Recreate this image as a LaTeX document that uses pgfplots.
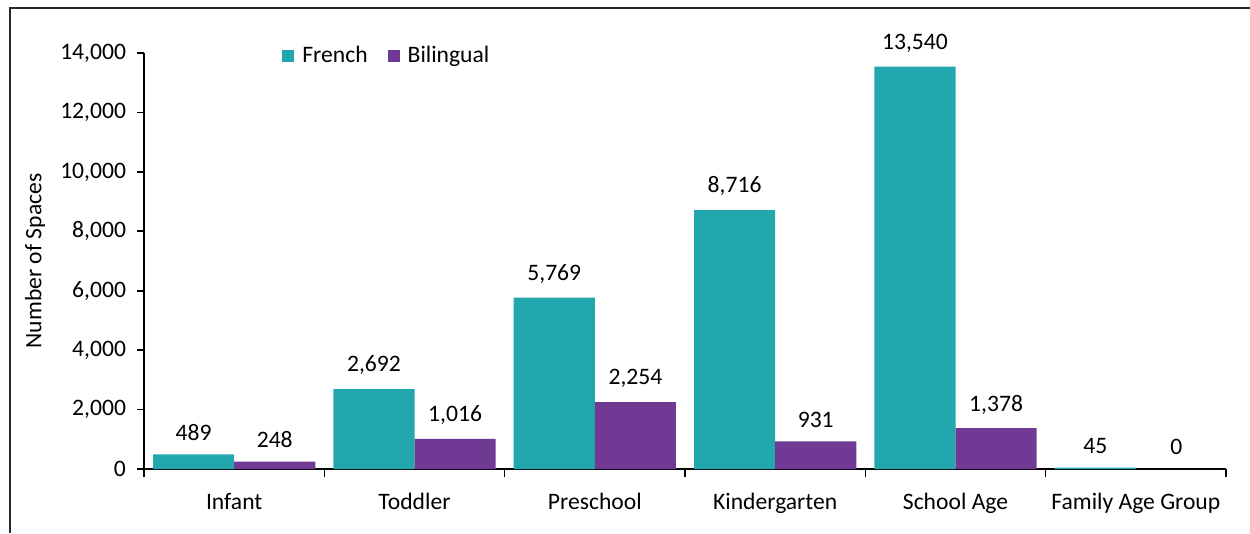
\documentclass[border=0pt]{standalone}
\usepackage{pgfplots}
\pgfplotsset{compat=1.18}
\usepackage{fontspec}
\setmainfont{Carlito}
\definecolor{frenchc}{RGB}{33,167,173}
\definecolor{bilingc}{RGB}{112,57,148}
\definecolor{framec}{RGB}{40,40,40}
\begin{document}
\begin{tikzpicture}[x=1bp,y=1bp]
\path[use as bounding box] (0,0) rectangle (625,266.5);
\draw[framec, line width=1bp] (5,0) -- (5,262.5) -- (626,262.5);
\begin{axis}[
  at={(72bp,32bp)}, anchor=south west,
  scale only axis, width=541bp, height=208bp,
  font=\fontsize{11.8bp}{14bp}\selectfont,
  /pgf/number format/1000 sep={,},
  /pgf/number format/assume math mode=true,
  xmin=-0.5, xmax=5.5, ymin=0, ymax=14000,
  axis lines=left, axis line style={-, black, line width=0.8pt},
  ybar, bar width=0.45, 
  xtick={0,...,5},
  xticklabels={Infant,Toddler,Preschool,Kindergarten,School Age,Family Age Group},
  major x tick style={draw=none},
  minor xtick={-0.5,0.5,...,5.5},
  tick align=outside,
  major tick length=3.5bp, minor tick length=4bp,
  tick style={black, line width=0.8pt},
  ytick={0,2000,...,14000},
  scaled y ticks=false,
  ylabel={Number of Spaces},
  ylabel style={at={(rel axis cs:-0.1007,0.5)}, anchor=center},
  xticklabel style={yshift=-5bp},
  yticklabel style={xshift=-2bp},
  nodes near coords,
  every node near coord/.append style={font=\fontsize{11.8bp}{14bp}\selectfont, yshift=3.5bp},
  legend style={at={(0.122,0.993)}, anchor=west, draw=none, fill=none,
    legend columns=2, font=\fontsize{11.8bp}{14bp}\selectfont,
    /tikz/every even column/.append style={column sep=6bp},
    nodes={inner xsep=4bp}},
  legend image code/.code={\fill[#1] (0bp,-3bp) rectangle (6bp,3bp);},
  clip=false,
]
\addplot[fill=frenchc, draw=none, bar shift=-0.225] coordinates {(0,489) (1,2692) (2,5769) (3,8716) (4,13540) (5,45)};
\addplot[fill=bilingc, draw=none, bar shift=0.225] coordinates {(0,248) (1,1016) (2,2254) (3,931) (4,1378) (5,0)};
\legend{French,Bilingual}
\end{axis}
\end{tikzpicture}
\end{document}
